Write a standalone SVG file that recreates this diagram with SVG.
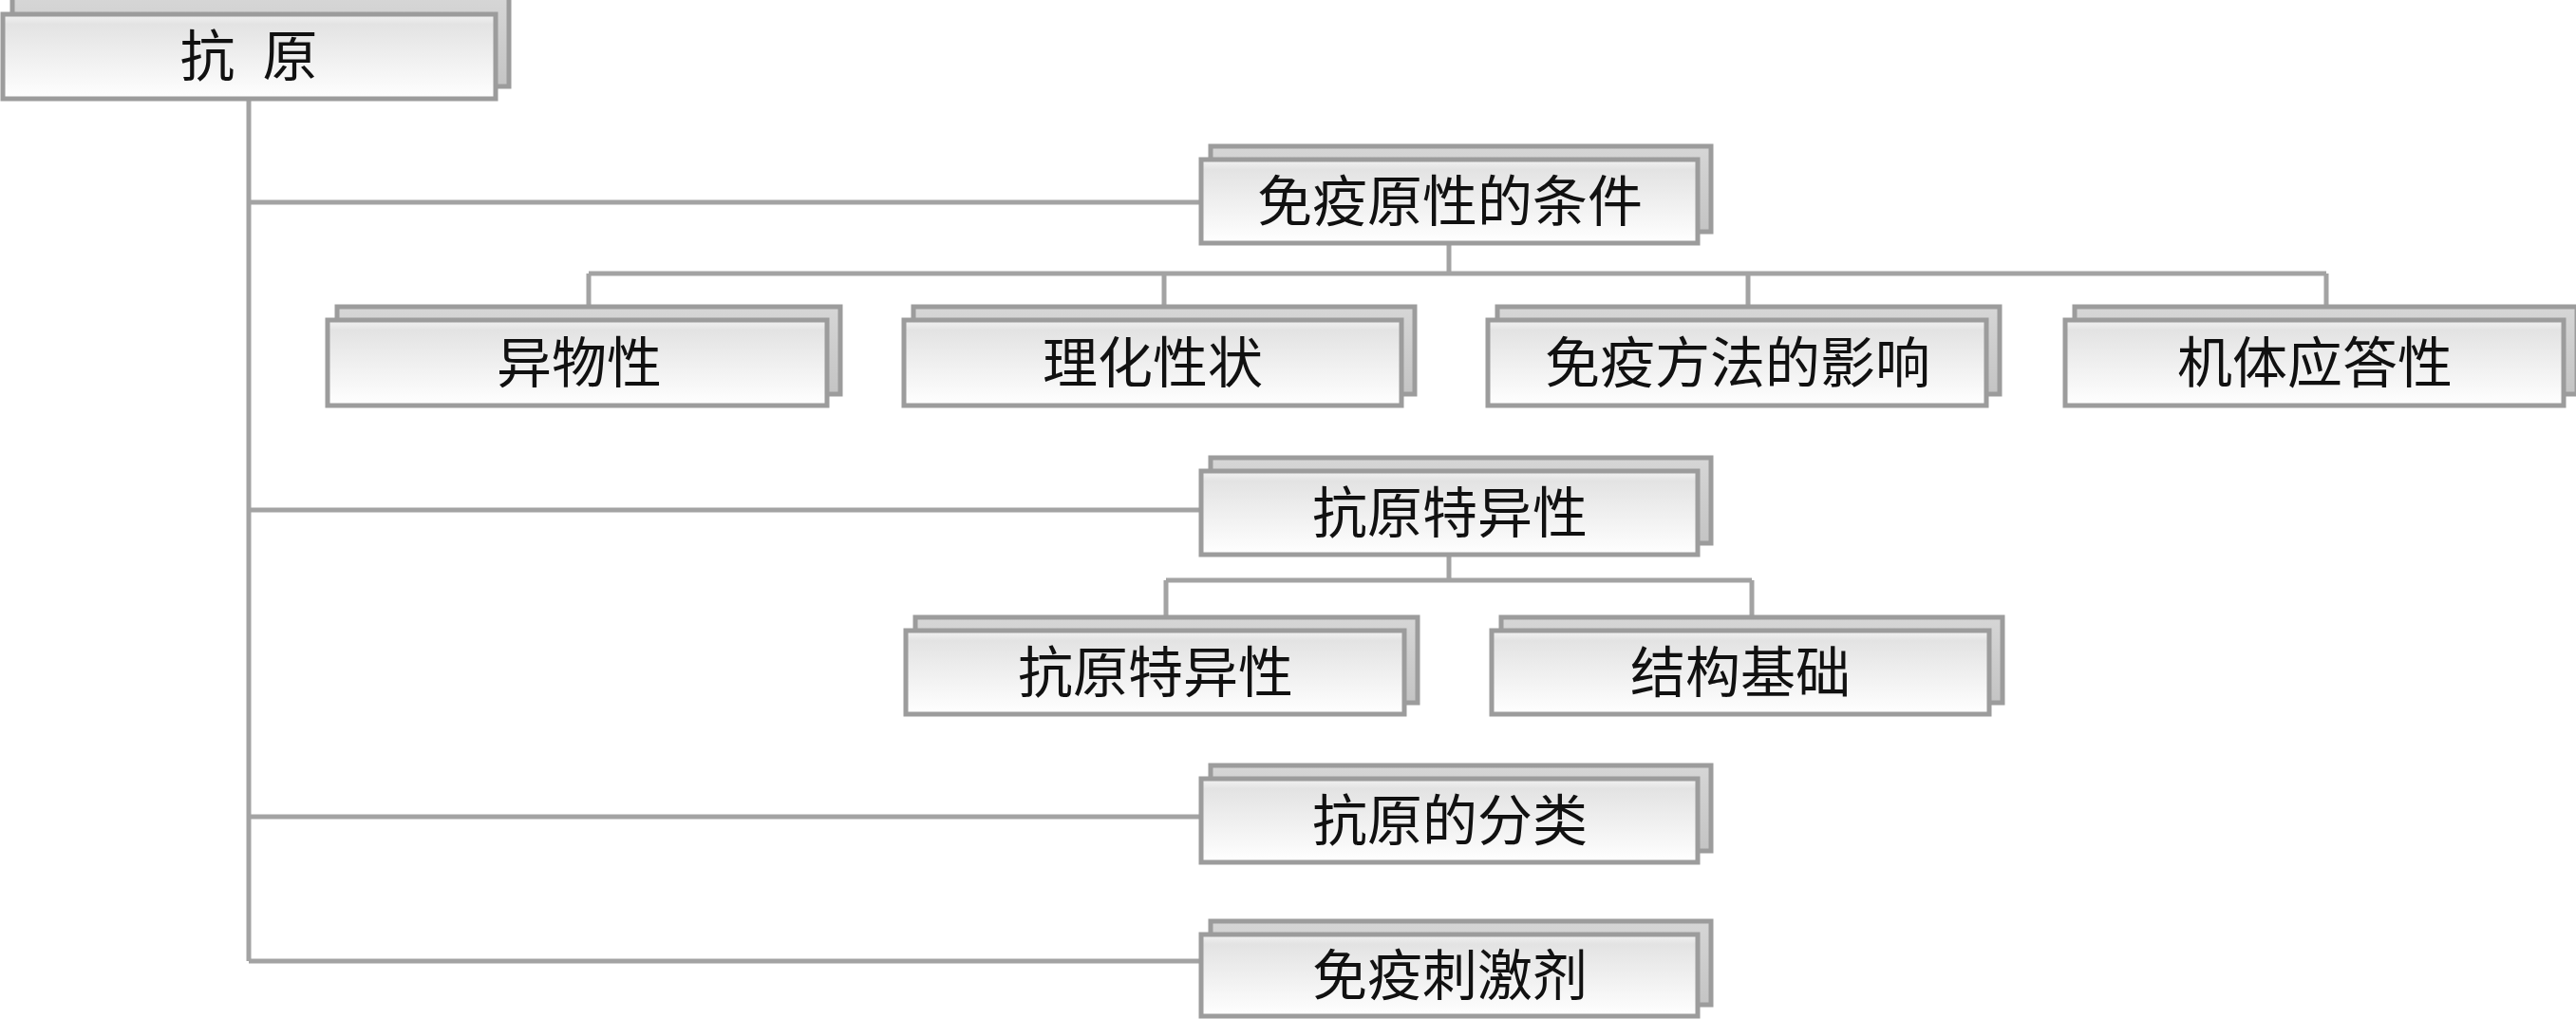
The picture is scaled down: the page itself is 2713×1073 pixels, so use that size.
<svg xmlns="http://www.w3.org/2000/svg" width="2713" height="1073" viewBox="0 0 2713 1073">
  <style>
    .back { fill: url(#gBack); stroke: #9c9c9c; stroke-width: 5; }
    .front { fill: url(#gFront); stroke: #9c9c9c; stroke-width: 5; }
    .lbl { font-family: "Noto Sans CJK SC", "Noto Sans", sans-serif; font-size: 58px; fill: #111; text-anchor: middle; }
    .conn { fill: none; stroke: #a3a3a3; stroke-width: 5; }
  </style>
  <defs>
    <linearGradient id="gFront" x1="0" y1="0" x2="0" y2="1">
      <stop offset="0" stop-color="#f3f3f3"/>
      <stop offset="0.12" stop-color="#e3e3e3"/>
      <stop offset="1" stop-color="#ffffff"/>
    </linearGradient>
    <linearGradient id="gBack" x1="0" y1="0" x2="0" y2="1">
      <stop offset="0" stop-color="#d6d6d6"/>
      <stop offset="1" stop-color="#c4c4c4"/>
    </linearGradient>
  </defs>
  <rect width="2713" height="1073" fill="#ffffff"/>

  <g id="connectors">
    <path class="conn" d="M262 104 V1012"/>
    <path class="conn" d="M262 213 H1265"/>
    <path class="conn" d="M262 537 H1265"/>
    <path class="conn" d="M262 860 H1265"/>
    <path class="conn" d="M262 1012 H1265"/>
    <path class="conn" d="M1526 256 V288"/>
    <path class="conn" d="M620 288 H2450"/>
    <path class="conn" d="M620 288 V323"/>
    <path class="conn" d="M1226 288 V323"/>
    <path class="conn" d="M1841 288 V323"/>
    <path class="conn" d="M2450 288 V323"/>
    <path class="conn" d="M1526 584 V611"/>
    <path class="conn" d="M1228 611 H1845"/>
    <path class="conn" d="M1228 611 V650"/>
    <path class="conn" d="M1845 611 V650"/>
  </g>

  <g id="root">
    <rect class="back" x="13" y="-3" width="523" height="94"/>
    <rect class="front" x="3" y="15" width="519" height="89"/>
    <text class="lbl" x="262" y="80" word-spacing="16">抗 原</text>
  </g>
  <g id="n1">
    <rect class="back" x="1275" y="154" width="527" height="90"/>
    <rect class="front" x="1265" y="168" width="523" height="88"/>
    <text class="lbl" x="1527" y="233">免疫原性的条件</text>
  </g>
  <g id="n1a">
    <rect class="back" x="355" y="323" width="530" height="92"/>
    <rect class="front" x="345" y="337" width="526" height="90"/>
    <text class="lbl" x="610" y="403">异物性</text>
  </g>
  <g id="n1b">
    <rect class="back" x="962" y="323" width="528" height="92"/>
    <rect class="front" x="952" y="337" width="524" height="90"/>
    <text class="lbl" x="1214" y="403">理化性状</text>
  </g>
  <g id="n1c">
    <rect class="back" x="1577" y="323" width="529" height="92"/>
    <rect class="front" x="1567" y="337" width="525" height="90"/>
    <text class="lbl" x="1830" y="403">免疫方法的影响</text>
  </g>
  <g id="n1d">
    <rect class="back" x="2185" y="323" width="529" height="92"/>
    <rect class="front" x="2175" y="337" width="525" height="90"/>
    <text class="lbl" x="2438" y="403">机体应答性</text>
  </g>
  <g id="n2">
    <rect class="back" x="1275" y="482" width="527" height="90"/>
    <rect class="front" x="1265" y="496" width="523" height="88"/>
    <text class="lbl" x="1527" y="561">抗原特异性</text>
  </g>
  <g id="n2a">
    <rect class="back" x="964" y="650" width="529" height="90"/>
    <rect class="front" x="954" y="664" width="525" height="88"/>
    <text class="lbl" x="1217" y="729">抗原特异性</text>
  </g>
  <g id="n2b">
    <rect class="back" x="1581" y="650" width="528" height="90"/>
    <rect class="front" x="1571" y="664" width="524" height="88"/>
    <text class="lbl" x="1833" y="729">结构基础</text>
  </g>
  <g id="n3">
    <rect class="back" x="1275" y="806" width="527" height="90"/>
    <rect class="front" x="1265" y="820" width="523" height="88"/>
    <text class="lbl" x="1527" y="885">抗原的分类</text>
  </g>
  <g id="n4">
    <rect class="back" x="1275" y="970" width="527" height="88"/>
    <rect class="front" x="1265" y="984" width="523" height="86"/>
    <text class="lbl" x="1527" y="1048">免疫刺激剂</text>
  </g>
</svg>
